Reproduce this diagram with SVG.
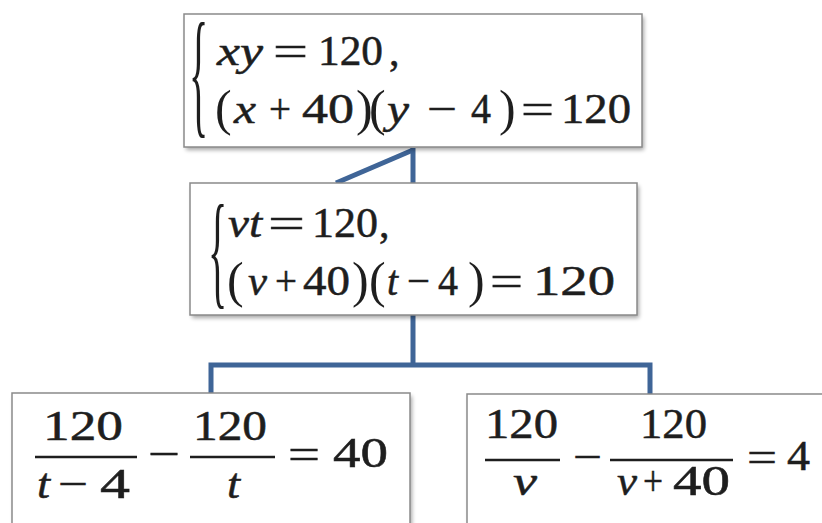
<svg xmlns="http://www.w3.org/2000/svg" width="822" height="523" viewBox="0 0 822 523">
<style>
.box{fill:#fff;stroke:#8a8a8a;stroke-width:1.5}
.sh{fill:#000;opacity:0.35;filter:url(#blur)}
.c{fill:none;stroke:#3f6597;stroke-width:5}
.t{font-family:"Liberation Serif","Times New Roman",serif;font-size:42px;fill:#1e1e1e;stroke:#1e1e1e;stroke-width:0.5}
.p{font-family:"Liberation Serif","Times New Roman",serif;font-size:50px;fill:#1e1e1e}
.i{font-style:italic}
.br{font-family:"Liberation Serif","Times New Roman",serif;font-size:40px;fill:#1e1e1e}
.bar{stroke:#1e1e1e;stroke-width:2.5}
</style>
<defs>
<filter id="blur" x="-5%" y="-5%" width="110%" height="110%"><feGaussianBlur stdDeviation="2"/></filter>
</defs>
<rect width="822" height="523" fill="#fff"/>
<g id="connectors">
<line class="c" x1="413" y1="148" x2="413" y2="183"/>
<line class="c" x1="413" y1="150" x2="336" y2="183"/>
<polyline class="c" points="413,315 413,365"/>
<polyline class="c" points="211,393 211,365 650,365 650,394"/>
</g>
<g id="node1">
<rect class="sh" x="186" y="17" width="458" height="133"/>
<rect class="box" x="184" y="14" width="458" height="133"/>
<text class="br" transform="translate(189,119) scale(1,3.48)">{</text>
<text class="t i" x="217" y="65" textLength="46" lengthAdjust="spacingAndGlyphs">xy</text>
<text class="t" x="273" y="65" textLength="35" lengthAdjust="spacingAndGlyphs">=</text>
<text class="t" x="318" y="65" textLength="65" lengthAdjust="spacingAndGlyphs">120</text>
<text class="t" x="389" y="65">,</text>
<text class="p" x="215" y="125">(</text>
<text class="t i" x="234" y="123" textLength="22" lengthAdjust="spacingAndGlyphs">x</text>
<text class="t" x="269" y="123" textLength="22" lengthAdjust="spacingAndGlyphs">+</text>
<text class="t" x="302" y="123" textLength="52" lengthAdjust="spacingAndGlyphs">40</text>
<text class="p" x="356" y="125">)</text>
<text class="p" x="369" y="125">(</text>
<text class="t i" x="387" y="123" textLength="22" lengthAdjust="spacingAndGlyphs">y</text>
<text class="t" x="427" y="123" textLength="30" lengthAdjust="spacingAndGlyphs">−</text>
<text class="t" x="471" y="123" textLength="20" lengthAdjust="spacingAndGlyphs">4</text>
<text class="p" x="499" y="125">)</text>
<text class="t" x="521" y="123" textLength="33" lengthAdjust="spacingAndGlyphs">=</text>
<text class="t" x="561" y="123" textLength="70" lengthAdjust="spacingAndGlyphs">120</text>
</g>
<g id="node2">
<rect class="sh" x="192" y="186" width="447" height="132"/>
<rect class="box" x="190" y="183" width="447" height="132"/>
<text class="br" transform="translate(208,291.7) scale(1,3.2)">{</text>
<text class="t i" x="228" y="237" textLength="34" lengthAdjust="spacingAndGlyphs">vt</text>
<text class="t" x="268" y="237" textLength="37" lengthAdjust="spacingAndGlyphs">=</text>
<text class="t" x="312" y="237" textLength="66" lengthAdjust="spacingAndGlyphs">120</text>
<text class="t" x="379" y="237">,</text>
<text class="p" x="227" y="297">(</text>
<text class="t i" x="248" y="295" textLength="19" lengthAdjust="spacingAndGlyphs">v</text>
<text class="t" x="275" y="295" textLength="22" lengthAdjust="spacingAndGlyphs">+</text>
<text class="t" x="303" y="295" textLength="47" lengthAdjust="spacingAndGlyphs">40</text>
<text class="p" x="352" y="297">)</text>
<text class="p" x="369" y="297">(</text>
<text class="t i" x="387" y="295" textLength="11" lengthAdjust="spacingAndGlyphs">t</text>
<text class="t" x="407" y="295" textLength="23" lengthAdjust="spacingAndGlyphs">−</text>
<text class="t" x="438" y="295" textLength="20" lengthAdjust="spacingAndGlyphs">4</text>
<text class="p" x="468" y="297">)</text>
<text class="t" x="490" y="295" textLength="33" lengthAdjust="spacingAndGlyphs">=</text>
<text class="t" x="533" y="295" textLength="82" lengthAdjust="spacingAndGlyphs">120</text>
</g>
<g id="node3">
<rect class="sh" x="14" y="396" width="398" height="140"/>
<rect class="box" x="12" y="393" width="398" height="140"/>
<text class="t" x="43" y="440" textLength="80" lengthAdjust="spacingAndGlyphs">120</text>
<line class="bar" x1="35" y1="457" x2="137" y2="457"/>
<text class="t i" x="37" y="498" textLength="13" lengthAdjust="spacingAndGlyphs">t</text>
<text class="t" x="58" y="498" textLength="30" lengthAdjust="spacingAndGlyphs">−</text>
<text class="t" x="100" y="498" textLength="30" lengthAdjust="spacingAndGlyphs">4</text>
<text class="t" x="148" y="468" textLength="32" lengthAdjust="spacingAndGlyphs">−</text>
<text class="t" x="193" y="440" textLength="74" lengthAdjust="spacingAndGlyphs">120</text>
<line class="bar" x1="190" y1="457" x2="275" y2="457"/>
<text class="t i" x="227" y="498" textLength="13" lengthAdjust="spacingAndGlyphs">t</text>
<text class="t" x="288" y="468" textLength="32" lengthAdjust="spacingAndGlyphs">=</text>
<text class="t" x="333" y="467" textLength="55" lengthAdjust="spacingAndGlyphs">40</text>
</g>
<g id="node4">
<rect class="sh" x="469" y="397" width="370" height="140"/>
<rect class="box" x="467" y="394" width="370" height="140"/>
<text class="t" x="485" y="438" textLength="73" lengthAdjust="spacingAndGlyphs">120</text>
<line class="bar" x1="485" y1="460" x2="560" y2="460"/>
<text class="t i" x="513" y="495" textLength="24" lengthAdjust="spacingAndGlyphs">v</text>
<text class="t" x="573" y="471" textLength="29" lengthAdjust="spacingAndGlyphs">−</text>
<text class="t" x="640" y="438" textLength="67" lengthAdjust="spacingAndGlyphs">120</text>
<line class="bar" x1="610" y1="460" x2="733" y2="460"/>
<text class="t i" x="617" y="495" textLength="20" lengthAdjust="spacingAndGlyphs">v</text>
<text class="t" x="643" y="495" textLength="20" lengthAdjust="spacingAndGlyphs">+</text>
<text class="t" x="673" y="495" textLength="57" lengthAdjust="spacingAndGlyphs">40</text>
<text class="t" x="747" y="471" textLength="30" lengthAdjust="spacingAndGlyphs">=</text>
<text class="t" x="787" y="470" textLength="23" lengthAdjust="spacingAndGlyphs">4</text>
</g>
</svg>
